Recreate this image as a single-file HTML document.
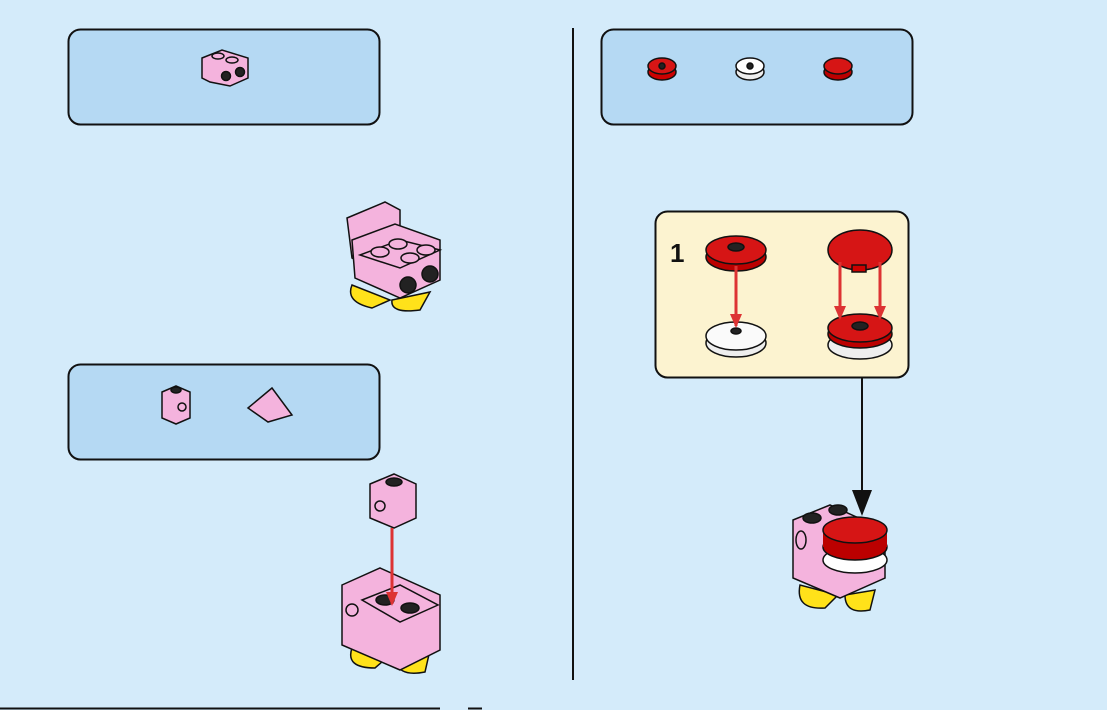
<!DOCTYPE html>
<html><head><meta charset="utf-8"><style>
html,body{margin:0;padding:0;background:#d4ebfa;}
svg{display:block}
text{font-family:"Liberation Sans",sans-serif}
</style></head><body>
<svg width="1107" height="710" viewBox="0 0 1107 710" xmlns="http://www.w3.org/2000/svg">
<defs>
<marker id="ra" markerWidth="14" markerHeight="12" refX="12" refY="6" orient="auto" markerUnits="userSpaceOnUse"><path d="M0,0 L14,6 L0,12 z" fill="#d33"/></marker>
</defs>
<rect width="1107" height="710" fill="#d4ebfa"/>
<rect x="68.5" y="29.5" width="311" height="95" rx="12" fill="#b5d9f3" stroke="#111" stroke-width="2"/>
<rect x="68.5" y="364.5" width="311" height="95" rx="12" fill="#b5d9f3" stroke="#111" stroke-width="2"/>
<rect x="601.5" y="29.5" width="311" height="95" rx="12" fill="#b5d9f3" stroke="#111" stroke-width="2"/>
<line x1="573" y1="28" x2="573" y2="680" stroke="#111" stroke-width="2"/>
<line x1="0" y1="708.5" x2="440" y2="708.5" stroke="#111" stroke-width="2"/>
<line x1="468" y1="708.5" x2="482" y2="708.5" stroke="#111" stroke-width="2"/>

<g stroke="#111" stroke-width="1.5">
<path d="M202,58 L222,50 L248,58 L248,78 L230,86 L210,82 L202,78 z" fill="#f4b3dd"/>
<ellipse cx="218" cy="56" rx="6" ry="3" fill="#f4b3dd"/><ellipse cx="232" cy="60" rx="6" ry="3" fill="#f4b3dd"/>
<circle cx="226" cy="76" r="4.5" fill="#222"/><circle cx="240" cy="72" r="4.5" fill="#222"/>
</g>
<g stroke="#111" stroke-width="1.5">
<path d="M162,392 L176,386 L190,392 L190,418 L176,424 L162,418 z" fill="#f4b3dd"/>
<ellipse cx="176" cy="390" rx="5" ry="3" fill="#222"/>
<circle cx="182" cy="407" r="4" fill="#f4b3dd"/>
<path d="M248,408 L272,388 L292,415 L268,422 z" fill="#f4b3dd"/>
</g>
<g stroke="#111" stroke-width="1.5">
<ellipse cx="662" cy="72" rx="14" ry="8" fill="#c00"/><ellipse cx="662" cy="66" rx="14" ry="8" fill="#d61515"/><circle cx="662" cy="66" r="3" fill="#222"/>
<ellipse cx="750" cy="72" rx="14" ry="8" fill="#eee"/><ellipse cx="750" cy="66" rx="14" ry="8" fill="#fff"/><circle cx="750" cy="66" r="3" fill="#222"/>
<ellipse cx="838" cy="72" rx="14" ry="8" fill="#b00"/><ellipse cx="838" cy="66" rx="14" ry="8" fill="#d61515"/>
</g>

<g stroke="#111" stroke-width="1.5">
<path d="M352,285 Q345,302 372,308 L390,300 Z" fill="#ffe21a"/>
<path d="M392,300 Q390,314 420,310 L430,292 Z" fill="#ffe21a"/>
<path d="M347,218 L385,202 L400,210 L400,245 L360,262 L352,258 z" fill="#f4b3dd"/>
<path d="M352,240 L395,224 L440,240 L440,280 L400,298 L355,278 z" fill="#f4b3dd"/>
<path d="M360,255 L400,240 L440,250 L400,268 z" fill="#f4b3dd"/>
<ellipse cx="380" cy="252" rx="9" ry="5" fill="#f4b3dd"/><ellipse cx="398" cy="244" rx="9" ry="5" fill="#f4b3dd"/><ellipse cx="410" cy="258" rx="9" ry="5" fill="#f4b3dd"/><ellipse cx="426" cy="250" rx="9" ry="5" fill="#f4b3dd"/>
<circle cx="408" cy="285" r="8" fill="#222"/><circle cx="430" cy="274" r="8" fill="#222"/>
</g>

<g stroke="#111" stroke-width="1.5">
<path d="M352,648 Q345,668 375,668 L390,655 Z" fill="#ffe21a"/>
<path d="M395,655 Q395,678 425,672 L430,650 Z" fill="#ffe21a"/>
<path d="M342,585 L380,568 L440,595 L440,650 L400,670 L342,645 z" fill="#f4b3dd"/>
<path d="M362,600 L400,585 L438,605 L400,622 z" fill="#f4b3dd"/>
<ellipse cx="385" cy="600" rx="9" ry="5" fill="#222"/><ellipse cx="410" cy="608" rx="9" ry="5" fill="#222"/>
<circle cx="352" cy="610" r="6" fill="#f4b3dd"/>
<path d="M370,484 L394,474 L416,484 L416,518 L394,528 L370,518 z" fill="#f4b3dd"/>
<ellipse cx="394" cy="482" rx="8" ry="4" fill="#222"/><circle cx="380" cy="506" r="5" fill="#f4b3dd"/>
</g>
<line x1="392" y1="528" x2="392" y2="604" stroke="#d33" stroke-width="3" marker-end="url(#ra)"/>

<rect x="655.5" y="211.5" width="253" height="166" rx="12" fill="#fcf3d0" stroke="#111" stroke-width="2"/>
<text x="670" y="262" font-size="26" font-weight="bold" fill="#111">1</text>
<g stroke="#111" stroke-width="1.5">
<ellipse cx="736" cy="257" rx="30" ry="14" fill="#b00"/><ellipse cx="736" cy="250" rx="30" ry="14" fill="#d61515"/><ellipse cx="736" cy="247" rx="8" ry="4" fill="#222"/>
<ellipse cx="736" cy="343" rx="30" ry="14" fill="#eee"/><ellipse cx="736" cy="336" rx="30" ry="14" fill="#fafafa"/><ellipse cx="736" cy="331" rx="5" ry="3" fill="#222"/>
<ellipse cx="860" cy="250" rx="32" ry="20" fill="#d61515"/><rect x="852" y="265" width="14" height="7" fill="#c00"/>
<ellipse cx="860" cy="345" rx="32" ry="14" fill="#eee"/><ellipse cx="860" cy="334" rx="32" ry="14" fill="#b00"/><ellipse cx="860" cy="328" rx="32" ry="14" fill="#d61515"/><ellipse cx="860" cy="326" rx="8" ry="4" fill="#222"/>
</g>
<line x1="736" y1="266" x2="736" y2="326" stroke="#d33" stroke-width="3" marker-end="url(#ra)"/>
<line x1="840" y1="262" x2="840" y2="318" stroke="#d33" stroke-width="3" marker-end="url(#ra)"/>
<line x1="880" y1="262" x2="880" y2="318" stroke="#d33" stroke-width="3" marker-end="url(#ra)"/>

<line x1="862" y1="378" x2="862" y2="495" stroke="#111" stroke-width="2"/>
<path d="M852,490 L872,490 L862,516 z" fill="#111"/>

<g stroke="#111" stroke-width="1.5">
<path d="M800,585 Q795,610 825,608 L838,595 Z" fill="#ffe21a"/>
<path d="M845,595 Q845,615 870,610 L875,590 Z" fill="#ffe21a"/>
<path d="M793,520 L830,505 L885,530 L885,578 L840,598 L793,578 z" fill="#f4b3dd"/>
<ellipse cx="812" cy="518" rx="9" ry="5" fill="#222"/><ellipse cx="838" cy="510" rx="9" ry="5" fill="#222"/>
<ellipse cx="801" cy="540" rx="5" ry="9" fill="#f4b3dd"/>
<ellipse cx="855" cy="560" rx="32" ry="13" fill="#fff"/>
<ellipse cx="855" cy="547" rx="32" ry="13" fill="#b00"/>
<rect x="823" y="530" width="64" height="17" fill="#b00" stroke="none"/>
<ellipse cx="855" cy="530" rx="32" ry="13" fill="#d61515"/>
</g>
</svg>
</body></html>
